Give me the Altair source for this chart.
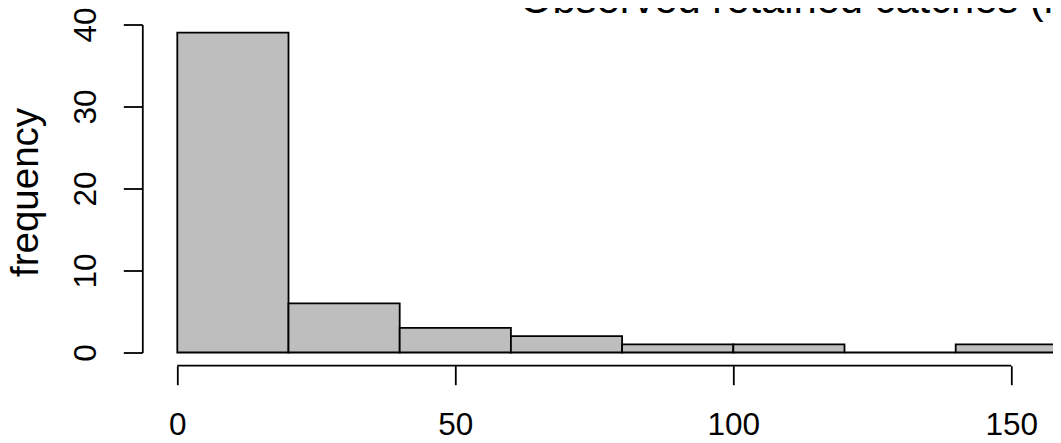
import altair as alt
import pandas as pd

# ---- data ----
bin_start = [0, 20, 40, 60, 80, 100, 120, 140]
bin_end = [20, 40, 60, 80, 100, 120, 140, 160]
counts = [39, 6, 3, 2, 1, 1, 0, 1]
x_ticks = [0, 50, 100, 150]
y_ticks = [0, 10, 20, 30, 40]
main_title = "Observed retained catches (kg)"
y_title = "frequency"

df = pd.DataFrame({"start": bin_start, "end": bin_end, "count": counts})
axis_df = pd.DataFrame({"lo": [x_ticks[0]], "hi": [x_ticks[-1]]})
title_df = pd.DataFrame({"t": [main_title]})
ylab_df = pd.DataFrame({"t": [y_title]})

FONT = "Liberation Sans"
W, H = 834, 328
LW = 1.8
X_OFFSET = 13.2

xscale = alt.Scale(domain=[x_ticks[0], x_ticks[-1]], nice=False, zero=False)
yscale = alt.Scale(domain=[y_ticks[0], y_ticks[-1]], nice=False, zero=False)

bars = alt.Chart(df).mark_rect(fill="#bebebe", stroke="black", strokeWidth=LW).encode(
    x=alt.X("start:Q", scale=xscale,
            axis=alt.Axis(values=x_ticks, title=None, offset=X_OFFSET, tickSize=19,
                          domain=False, labelPadding=49.3, labelBaseline="alphabetic",
                          labelAlign="center", labelFlush=False, labelOverlap=False,
                          grid=False)),
    x2="end:Q",
    y=alt.Y("count:Q", scale=yscale,
            axis=alt.Axis(values=y_ticks, title=None, offset=35, tickSize=19,
                          labelPadding=28.3, labelAngle=270, labelAlign="center",
                          labelBaseline="alphabetic", labelFlush=False,
                          labelOverlap=False, grid=False)),
    y2=alt.datum(0),
)

# x axis line, drawn from the first to the last tick as R does
xaxis_line = alt.Chart(axis_df).mark_rule(color="black", strokeWidth=LW).encode(
    x=alt.X("lo:Q", scale=xscale, title=None),
    x2="hi:Q",
    y=alt.value(H + X_OFFSET),
)

title = alt.Chart(title_df).mark_text(
    align="left", baseline="alphabetic", fontSize=41.7, font=FONT, color="black"
).encode(text="t:N", x=alt.value(342.7), y=alt.value(-11.2))

ylab = alt.Chart(ylab_df).mark_text(
    align="center", baseline="alphabetic", angle=270, fontSize=38.5, font=FONT, color="black"
).encode(text="t:N", x=alt.value(-139.8), y=alt.value(168))

chart = alt.layer(bars, xaxis_line, title, ylab).properties(
    width=W, height=H,
    autosize=alt.AutoSizeParams(type="none"),
    padding={"left": 169.3, "top": 16.5, "right": 41.7, "bottom": 82.5},
).configure(background="white").configure_view(stroke=None).configure_axis(
    domainColor="black", domainWidth=LW, tickColor="black", tickWidth=LW,
    labelFont=FONT, labelFontSize=31.5, labelColor="black",
)

chart.save("out.html", embed_options={"renderer": "svg", "actions": False})
